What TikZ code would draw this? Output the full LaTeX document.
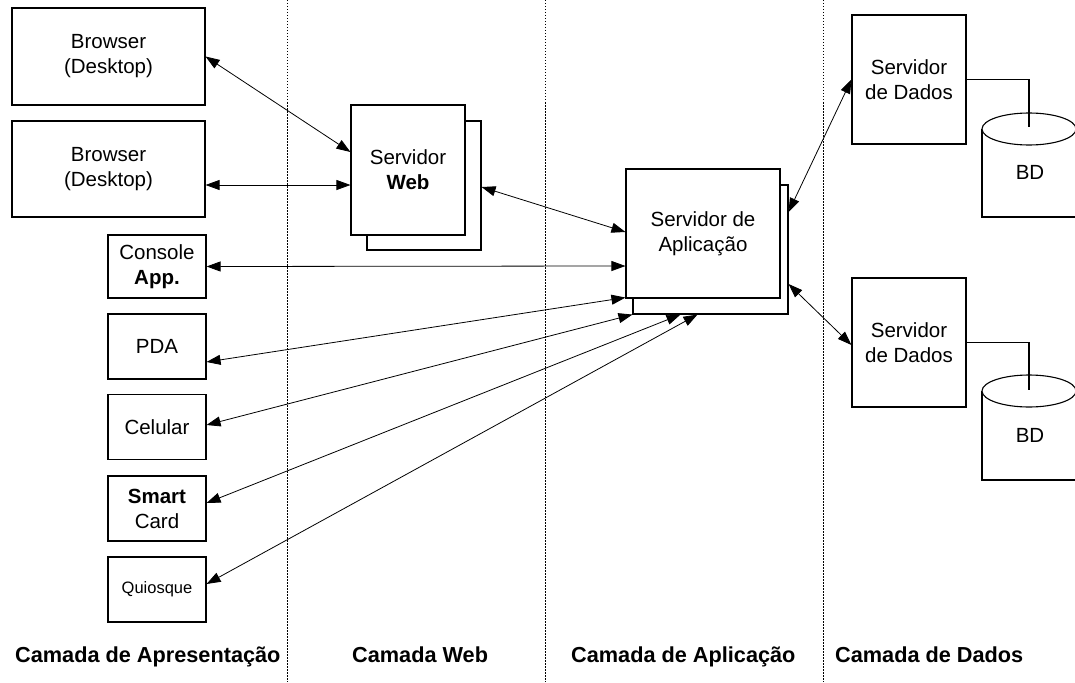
\documentclass[tikz,border=0pt]{standalone}
\usepackage{fontspec}
\setmainfont{Liberation Sans}
\usetikzlibrary{arrows.meta,calc}
\begin{document}
\begin{tikzpicture}[x=1pt,y=-1pt,
  box/.style={draw, line width=1.1pt, fill=white, inner sep=0pt, align=center,
    font=\fontsize{20.5}{25}\selectfont},
  arr/.style={line width=0.8pt, {Triangle[length=14pt,width=10pt]}-{Triangle[length=14pt,width=10pt]}},
  sepline/.style={line width=0.8pt, dash pattern=on 1.5pt off 1.5pt},
  lbl/.style={inner sep=0pt, anchor=base west, font=\fontsize{21.7}{26}\bfseries\selectfont},
  dbline/.style={line width=1.1pt},
  link/.style={line width=1.1pt}
]
\useasboundingbox (0,0) rectangle (1075,682);
\clip (0,0) rectangle (1075,682);

% layer separators
\draw[sepline] (287,0) -- (287,682);
\draw[sepline] (545,0) -- (545,682);
\draw[sepline] (823,0) -- (823,682);

% presentation layer
\node[box, minimum width=193pt, minimum height=97pt] (b1) at (108.5,56.5) {Browser\\(Desktop)};
\node[box, minimum width=193pt, minimum height=96pt] (b2) at (108.5,169) {Browser\\(Desktop)};
\node[box, minimum width=98pt, minimum height=63pt] (con) at (157,266.5) {Console\\\textbf{App.}};
\node[box, minimum width=98pt, minimum height=65pt] (pda) at (157,346.5) {PDA};
\node[box, minimum width=98pt, minimum height=65pt] (cel) at (157,427) {Celular};
\node[box, minimum width=98pt, minimum height=65pt] (smart) at (157,508.5) {\textbf{Smart}\\Card};
\node[box, minimum width=98pt, minimum height=65pt, font=\fontsize{16.5}{20}\selectfont] (qui) at (157,589.5) {Quiosque};

% web layer
\node[box, minimum width=114pt, minimum height=129pt] (webb) at (424,185.5) {};
\node[box, minimum width=114pt, minimum height=130pt] (web) at (408,170) {Servidor\\\textbf{Web}};

% application layer
\node[box, minimum width=155pt, minimum height=129pt] (appb) at (710.5,249.5) {};
\node[box, minimum width=154pt, minimum height=129pt] (app) at (703,233.5) {Servidor de\\Aplicação};

% data layer
\node[box, minimum width=114pt, minimum height=129pt] (d1) at (909,79.5) {Servidor\\de Dados};
\node[box, minimum width=114pt, minimum height=129pt] (d2) at (909,342.5) {Servidor\\de Dados};

% databases
\fill[white] (982,129) rectangle (1076,217);
\draw[dbline] (1076,129) -- (1076,217) -- (982,217) -- (982,129);
\draw[dbline, fill=white] (1029,129) ellipse [x radius=47, y radius=16];
\node[font=\fontsize{20.5}{25}\selectfont] (bd1) at (1030,172) {BD};
\coordinate (c1) at (1029,127);

\fill[white] (982,391) rectangle (1076,480);
\draw[dbline] (1076,391) -- (1076,480) -- (982,480) -- (982,391);
\draw[dbline, fill=white] (1029,391) ellipse [x radius=47, y radius=16];
\node[font=\fontsize{20.5}{25}\selectfont] (bd2) at (1030,435) {BD};
\coordinate (c2) at (1029,390);

\draw[link] (d1.east) -| (c1);
\draw[link] (d2.east) -| (c2);

% connectors
\draw[arr] (b1.east) -- ([yshift=18pt]web.west);
\draw[arr] ([yshift=-16pt]b2.east) -- ([yshift=-15pt]web.west);
\draw[arr] ([yshift=-1.5pt]webb.east) -- ([yshift=1.5pt]app.west);
\draw[arr] (con.east) -- ([yshift=-32.5pt]app.west);
\draw[arr] ([yshift=-15.5pt]pda.east) -- ([yshift=1pt]app.south west);
\draw[arr] ([yshift=2pt]cel.east) -- (appb.south west);
\draw[arr] ([yshift=5.5pt]smart.east) -- ([xshift=-30pt]appb.south);
\draw[arr] ([yshift=5.5pt]qui.east) -- ([xshift=-13pt]appb.south);
\draw[arr] ([yshift=37.5pt]appb.east) -- (d1.west);
\draw[arr] ([yshift=-34.5pt]appb.east) -- ([yshift=-2.5pt]d2.west);

% layer labels
\node[lbl] (l1) at (15,662) {Camada de Apresentação};
\node[lbl] (l2) at (352,662) {Camada Web};
\node[lbl] (l3) at (571,662) {Camada de Aplicação};
\node[lbl] (l4) at (835,662) {Camada de Dados};
\end{tikzpicture}
\end{document}
